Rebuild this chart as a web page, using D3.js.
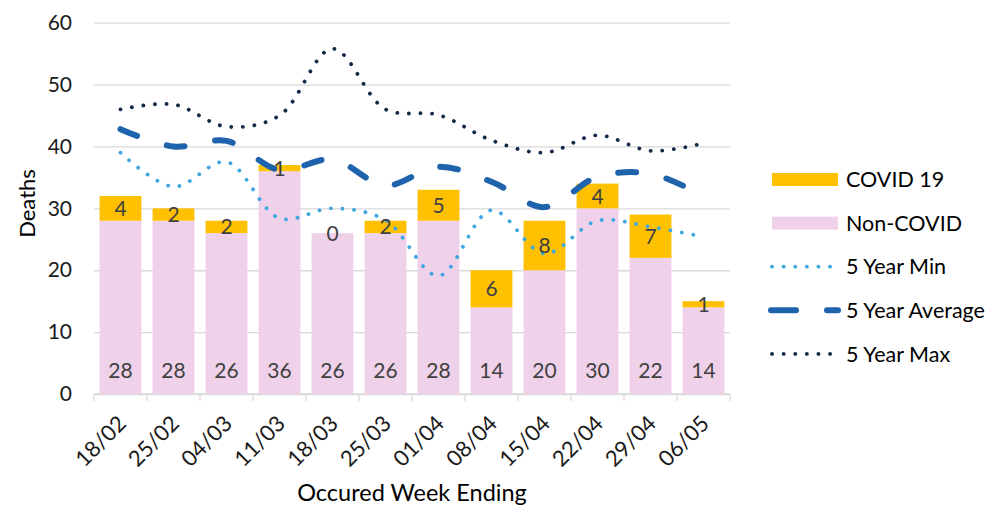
<!DOCTYPE html>
<meta charset="utf-8">
<style>
  body { margin: 0; background: #fff; }
  svg text { font-family: Lato, "Open Sans", sans-serif; }
  .axis path { display: none; }
  .axis line { stroke: #d9d9d9; stroke-width: 1.3px; }
  .axis text { fill: #1a1a1a; }
  .y.axis text { font-size: 21px; }
  .x.axis text { font-size: 22px; }
</style>
<div class="chart"></div>
<script src="https://cdn.jsdelivr.net/npm/d3@7/dist/d3.min.js"></script>
<script>
  // data
  var weeks = ["18/02","25/02","04/03","11/03","18/03","25/03","01/04","08/04","15/04","22/04","29/04","06/05"];
  var nonCovid = [28,28,26,36,26,26,28,14,20,30,22,14];
  var covid    = [4,2,2,1,0,2,5,6,8,4,7,1];
  var minDeaths = [39,33.5,37.5,28.4,30,28.1,19.1,29.7,22.7,28,27,25.4];
  var avgDeaths = [42.8,40,40.9,36.2,37.9,33.7,36.7,34.3,30.2,35.1,35.6,32];
  var maxDeaths = [46,46.8,43.2,45,55.8,46,45.1,41,39,41.8,39.3,40.5];
  var yTicks = [0,10,20,30,40,50,60];

  var colCovid = "#ffc000", colNon = "#efd2ea";
  var colMin = "#3fa7e0", colAvg = "#1f63ad", colMax = "#15294a";

  var W = 988, H = 507;
  var margin = {top: 22.7, right: 258, bottom: 113, left: 94};
  var width = W - margin.left - margin.right,
      height = H - margin.top - margin.bottom;

  var svg = d3.select(".chart").append("svg")
      .attr("width", W).attr("height", H);
  var g = svg.append("g")
      .attr("transform", "translate(" + margin.left + "," + margin.top + ")");

  var x = d3.scaleBand().domain(weeks).range([0, width])
      .paddingInner(0.21).paddingOuter(0.105);
  var y = d3.scaleLinear().domain([0, 60]).range([height, 0]);

  // gridlines + y labels
  g.append("g").attr("class", "y axis")
      .call(d3.axisLeft(y).tickValues(yTicks).tickSize(-width).tickPadding(22));

  // x axis baseline and boundary ticks
  g.append("line").attr("x1", 0).attr("x2", width)
      .attr("y1", height).attr("y2", height)
      .attr("stroke", "#d9d9d9").attr("stroke-width", 1.3);
  g.append("g").selectAll("line")
      .data(d3.range(weeks.length + 1))
      .enter().append("line")
      .attr("x1", function(i) { return i * x.step(); })
      .attr("x2", function(i) { return i * x.step(); })
      .attr("y1", height).attr("y2", height + 7)
      .attr("stroke", "#d9d9d9").attr("stroke-width", 1.3);

  var xAxis = g.append("g").attr("class", "x axis")
      .attr("transform", "translate(0," + height + ")")
      .call(d3.axisBottom(x).tickSize(0).tickPadding(0));
  xAxis.selectAll("text")
      .style("text-anchor", "end")
      .attr("dy", 0)
      .attr("transform", "translate(7,31) rotate(-45)");

  // stacked bars
  var rows = weeks.map(function(w, i) { return {week: w, non: nonCovid[i], covid: covid[i]}; });
  var stacked = d3.stack().keys(["non", "covid"])(rows);
  var colors = {non: colNon, covid: colCovid};

  stacked.forEach(function(layer) {
    g.append("g").selectAll("rect")
      .data(layer).enter().append("rect")
      .attr("x", function(d) { return x(d.data.week); })
      .attr("width", x.bandwidth())
      .attr("y", function(d) { return y(d[1]); })
      .attr("height", function(d) { return y(d[0]) - y(d[1]); })
      .attr("fill", colors[layer.key]);
  });

  // lines
  function drawLine(vals, color, w, dash) {
    var line = d3.line()
      .x(function(d, i) { return x(weeks[i]) + x.bandwidth() / 2; })
      .y(function(d) { return y(d); })
      .curve(d3.curveCatmullRom.alpha(0.5));
    g.append("path").datum(vals)
      .attr("d", line)
      .attr("fill", "none")
      .attr("stroke", color)
      .attr("stroke-width", w)
      .attr("stroke-linecap", "round")
      .attr("stroke-dasharray", dash);
  }
  drawLine(minDeaths, colMin, 3.8, "0.1 11.5");
  drawLine(avgDeaths, colAvg, 6, "18 31");
  drawLine(maxDeaths, colMax, 3.8, "0.1 11.5");

  // data labels
  var labels = g.append("g").attr("font-size", "21px").attr("fill", "#404040")
      .attr("text-anchor", "middle");
  rows.forEach(function(d) {
    labels.append("text")
      .attr("x", x(d.week) + x.bandwidth() / 2)
      .attr("y", height - 16)
      .text(d.non);
    labels.append("text")
      .attr("x", x(d.week) + x.bandwidth() / 2)
      .attr("y", y(d.non + d.covid / 2))
      .attr("dy", "0.36em")
      .text(d.covid);
  });

  // axis titles
  svg.append("text")
      .attr("transform", "translate(35,203.5) rotate(-90)")
      .attr("text-anchor", "middle")
      .attr("font-size", "22px").attr("fill", "#000")
      .text("Deaths");
  svg.append("text")
      .attr("x", 412).attr("y", 501)
      .attr("text-anchor", "middle")
      .attr("font-size", "23.5px").attr("fill", "#000")
      .text("Occured Week Ending");

  // legend
  var legendItems = [
    {name: "COVID 19", type: "rect", color: colCovid},
    {name: "Non-COVID", type: "rect", color: colNon},
    {name: "5 Year Min", type: "line", color: colMin, w: 3.8, dash: "0.1 11.5"},
    {name: "5 Year Average", type: "line", color: colAvg, w: 6, dash: "25 31"},
    {name: "5 Year Max", type: "line", color: colMax, w: 3.8, dash: "0.1 11.5"}
  ];
  var legend = svg.append("g").attr("transform", "translate(772,179.5)");
  legendItems.forEach(function(d, i) {
    var row = legend.append("g").attr("transform", "translate(0," + (i * 43.6) + ")");
    if (d.type === "rect") {
      row.append("rect").attr("x", 0).attr("y", -6.5).attr("width", 66).attr("height", 13)
        .attr("fill", d.color);
    } else {
      row.append("line").attr("x1", d.w === 6 ? -1 : 0).attr("x2", 66).attr("y1", 0).attr("y2", 0)
        .attr("stroke", d.color).attr("stroke-width", d.w)
        .attr("stroke-linecap", "round").attr("stroke-dasharray", d.dash);
    }
    row.append("text").attr("x", 74).attr("dy", "0.36em")
      .attr("font-size", "21.5px").attr("fill", "#000")
      .text(d.name);
  });
</script>
